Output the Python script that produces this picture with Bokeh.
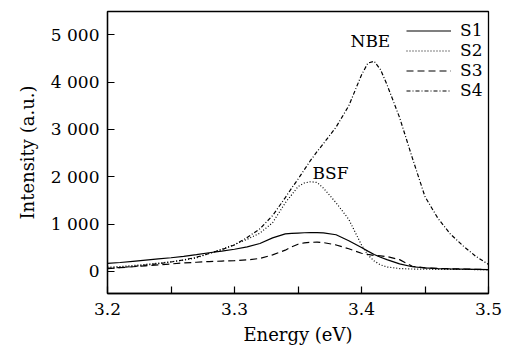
from bokeh.plotting import figure
from bokeh.models import Range1d, FixedTicker, Label
from bokeh.embed import file_html
from bokeh.resources import INLINE

energy = [3.20, 3.21, 3.22, 3.23, 3.24, 3.25, 3.26, 3.27, 3.28, 3.29,
          3.30, 3.31, 3.32, 3.33, 3.34, 3.345, 3.35, 3.355, 3.36, 3.365,
          3.37, 3.38, 3.39, 3.40, 3.405, 3.41, 3.415, 3.42, 3.43, 3.44,
          3.45, 3.46, 3.47, 3.48, 3.49, 3.50]

s1 = [170, 190, 215, 240, 265, 290, 320, 355, 395, 430,
      470, 520, 590, 710, 795, 805, 812, 818, 822, 820,
      815, 775, 650, 505, 430, 360, 300, 250, 160, 100,
      75, 62, 55, 50, 45, 40]

s2 = [90, 105, 125, 150, 175, 205, 240, 285, 380, 470,
      570, 680, 810, 1030, 1450, 1620, 1790, 1870, 1895, 1880,
      1760, 1450, 1100, 560, 350, 220, 140, 95, 62, 52,
      48, 45, 43, 42, 41, 40]

s3 = [60, 80, 100, 120, 140, 160, 180, 195, 210, 220,
      230, 245, 275, 350, 450, 520, 575, 605, 615, 620,
      610, 560, 480, 385, 360, 340, 330, 315, 250, 110,
      75, 65, 58, 52, 46, 40]

s4 = [65, 85, 105, 135, 165, 200, 245, 300, 380, 460,
      560, 720, 900, 1180, 1560, 1760, 1950, 2150, 2350, 2530,
      2700, 3050, 3500, 4150, 4400, 4440, 4260, 3950, 3250, 2400,
      1580, 1130, 790, 540, 320, 150]

series_names = ["S1", "S2", "S3", "S4"]
series_values = [s1, s2, s3, s4]
series_dash = ["solid", "1 2", "7 4", "4 2 1 2"]

x_ticks = [3.2, 3.3, 3.4, 3.5]
x_minor = [3.25, 3.35, 3.45]
y_ticks = [0, 1000, 2000, 3000, 4000, 5000]
y_tick_labels = ["0", "1 000", "2 000", "3 000", "4 000", "5 000"]

annotations = [("NBE", 3.407, 4860), ("BSF", 3.3756, 2090)]

FONT = "DejaVu Serif"

p = figure(output_backend="svg", toolbar_location=None,
           frame_width=381, frame_height=282,
           min_border_left=107, min_border_right=21,
           min_border_top=11, min_border_bottom=58,
           x_range=Range1d(3.2, 3.5), y_range=Range1d(-465, 5490))

p.xgrid.visible = False
p.ygrid.visible = False
p.outline_line_color = "black"
p.outline_line_width = 1.3
p.outline_line_alpha = 1.0

for name, vals, dash in zip(series_names, series_values, series_dash):
    p.line(energy, vals, line_color="black", line_width=1.2,
           line_dash=dash, legend_label=name)

p.xaxis.ticker = FixedTicker(ticks=x_ticks, minor_ticks=x_minor)
p.yaxis.ticker = FixedTicker(ticks=y_ticks)
p.yaxis.major_label_overrides = {t: l for t, l in zip(y_ticks, y_tick_labels)}
p.xaxis.major_label_overrides = {t: f"{t:.1f}" for t in x_ticks}

for ax in (p.xaxis[0], p.yaxis[0]):
    ax.axis_line_color = "black"
    ax.axis_line_width = 1.3
    ax.major_tick_in = 7
    ax.major_tick_out = 0
    ax.major_tick_line_color = "black"
    ax.major_tick_line_width = 1.2
    ax.minor_tick_in = 7
    ax.minor_tick_out = 0
    ax.minor_tick_line_color = "black"
    ax.minor_tick_line_width = 1.2
    ax.major_label_text_font = FONT
    ax.major_label_text_font_size = "17px"
    ax.major_label_text_color = "black"
    ax.axis_label_text_font = FONT
    ax.axis_label_text_font_size = "18px"
    ax.axis_label_text_font_style = "normal"
    ax.axis_label_text_color = "black"

p.yaxis.minor_tick_line_color = None
p.xaxis.axis_label = "Energy (eV)"
p.yaxis.axis_label = "Intensity (a.u.)"
p.xaxis.major_label_standoff = 9
p.yaxis.major_label_standoff = 8
p.xaxis.axis_label_standoff = 6
p.yaxis.axis_label_standoff = 10

for txt, xv, yv in annotations:
    p.add_layout(Label(x=xv, y=yv, text=txt, text_align="center",
                       text_baseline="middle", text_font=FONT,
                       text_font_size="17px", text_color="black"))

lg = p.legend[0]
lg.location = (299, 193)
lg.glyph_width = 45
lg.glyph_height = 19
lg.label_height = 19
lg.label_standoff = 9
lg.spacing = 0
lg.padding = 6
lg.margin = 0
lg.border_line_color = None
lg.background_fill_alpha = 0
lg.label_text_font = FONT
lg.label_text_font_size = "17px"
lg.label_text_color = "black"

open("out.html", "w").write(file_html(p, INLINE))
